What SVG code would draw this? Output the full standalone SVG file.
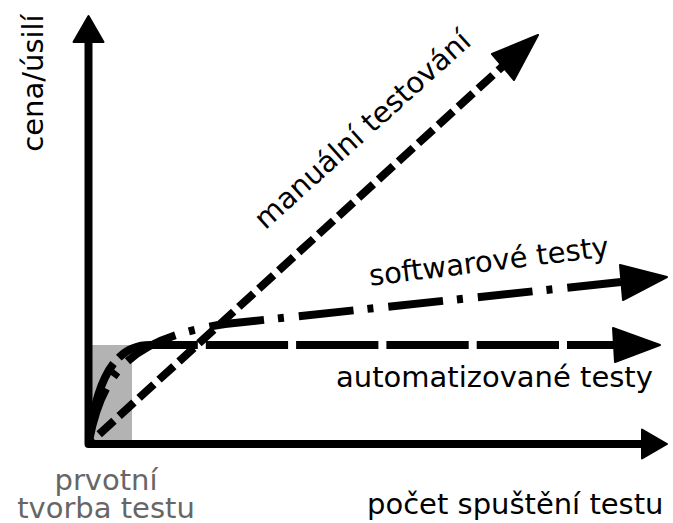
<svg xmlns="http://www.w3.org/2000/svg" width="673" height="523" viewBox="0 0 673 523">
<style>
.ax{fill:none;stroke:#000;stroke-width:8;stroke-linejoin:round}
.ah{fill:#000;stroke:#000;stroke-width:2;stroke-linejoin:round}
.cv{fill:none;stroke:#000;stroke-width:8;stroke-linecap:butt}
.t{font-family:"DejaVu Sans",sans-serif;font-size:29px;fill:#000}
.g{fill:#666}
</style>
<rect id="initial-area" x="88" y="345" width="44" height="99" fill="#b3b3b3"/>
<g id="connectors">
<path id="manual" class="cv" d="M503,66 L88.5,444" stroke-dasharray="20 7" stroke-dashoffset="13.5"/>
<path id="automated" class="cv" d="M615,345 L150,345 C120,345 97,370 88.5,444" stroke-dasharray="82.3 8" stroke-dashoffset="34.3"/>
<path id="software" class="cv" d="M621,282 L225,324 C135,338 102,368 88.5,444" stroke-dasharray="55 15 6 14" stroke-dashoffset="1"/>
<polygon class="ah" points="538,35 492,54 514,80"/>
<polygon class="ah" points="667,277 620,265 623,300"/>
<polygon class="ah" points="660,345 613,328 615,362"/>
</g>
<g id="axes">
<path class="ax" d="M88.5,42 L88.5,444 L642,444"/>
<polygon class="ah" points="88.5,16 73.5,42 103.5,42"/>
<polygon class="ah" points="667,444 642,429.5 642,458.5"/>
</g>
<g id="labels">
<text class="t" x="43" y="83" text-anchor="middle" transform="rotate(-90 43 83)">cena/úsilí</text>
<text class="t" x="367" y="514">počet spuštění testu</text>
<text class="t g" x="106" y="490" text-anchor="middle">prvotní</text>
<text class="t g" x="106" y="518" text-anchor="middle">tvorba testu</text>
<text class="t" x="369" y="137" text-anchor="middle" transform="rotate(-42 369 137)">manuální testování</text>
<text class="t" x="490" y="271" text-anchor="middle" transform="rotate(-7 490 271)">softwarové testy</text>
<text class="t" x="336" y="387">automatizované testy</text>
</g>
</svg>
